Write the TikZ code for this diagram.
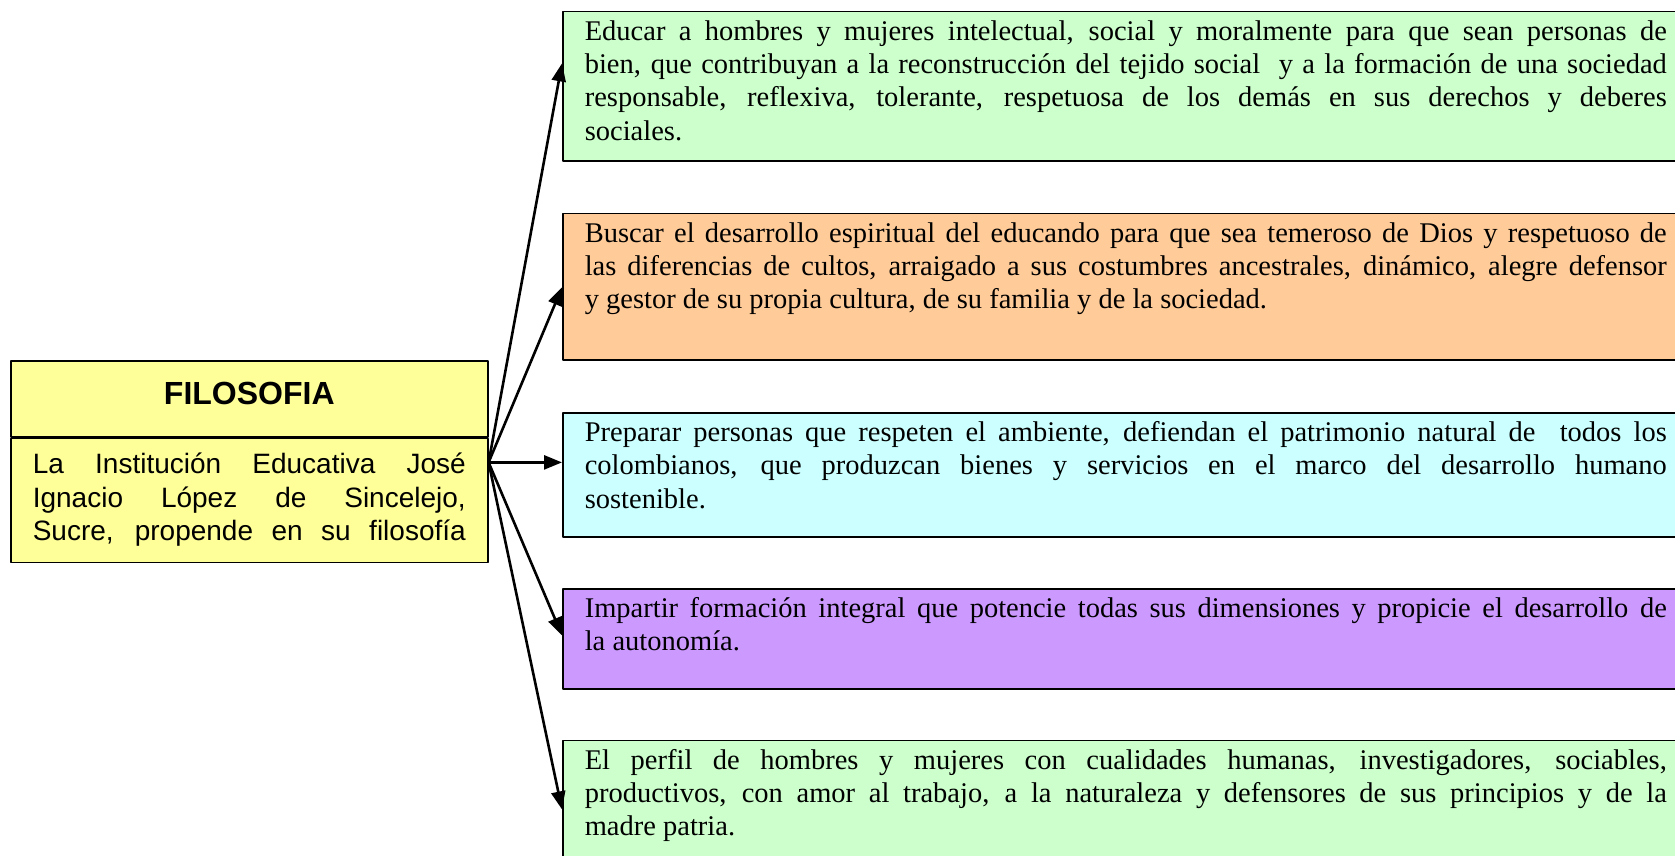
\documentclass[tikz,border=0pt]{standalone}
\usepackage{fontspec}
\setmainfont{Liberation Serif}[Ligatures=CommonOff]
\newfontfamily\arial{Liberation Sans}
\usetikzlibrary{positioning,arrows.meta}
\definecolor{verde}{HTML}{CCFFCC}
\definecolor{naranja}{HTML}{FFCC99}
\definecolor{celeste}{HTML}{CCFFFF}
\definecolor{lila}{HTML}{CC99FF}
\definecolor{amarillo}{HTML}{FFFF99}
\newcommand{\lin}[1]{\makebox[\hsize][s]{\strut #1}}
\newcommand{\caja}[2]{\parbox[t][#1][t]{1082pt}{\strut #2}}
\begin{document}
\begin{tikzpicture}[x=1pt,y=1pt,line join=round,>={Triangle[length=18pt,width=14pt]},
	objetivo/.style={draw,line width=1.6pt,inner xsep=22pt,inner ysep=5.4pt,anchor=north west,font=\fontsize{28.5}{33.3}\selectfont},
	titulo/.style={draw,line width=1.6pt,fill=amarillo,minimum width=477pt,minimum height=76pt,anchor=north west,font=\arial\bfseries\fontsize{32}{36}\selectfont},
	cuerpo/.style={draw,line width=1.6pt,fill=amarillo,minimum width=477pt,minimum height=124pt,inner sep=0pt,font=\arial\fontsize{28}{33.3}\selectfont},
	flecha/.style={->,line width=2.6pt}]
	\useasboundingbox (0,0) rectangle (1675,856);
	\node[titulo] (filo) at (10,496) {\raisebox{10pt}{FILOSOFIA}};
	\node[cuerpo,below=0pt of filo] (filotexto) {\parbox{433pt}{%
		\lin{La Institución Educativa José}\\
		\lin{Ignacio López de Sincelejo,}\\
		\lin{Sucre, propende en su filosofía}}};
	\coordinate (salida) at ([yshift=38pt]filotexto.east);
	\node[objetivo,fill=verde] (obj1) at (562,845.3) {\caja{138.5pt}{%
		\lin{Educar a hombres y mujeres intelectual, social y moralmente para que sean personas de}\\
		\lin{bien, que contribuyan a la reconstrucción del tejido social\ \ y a la formación de una sociedad}\\
		\lin{responsable, reflexiva, tolerante, respetuosa de los demás en sus derechos y deberes}\\
		sociales.}};
	\node[objetivo,fill=naranja,below=51pt of obj1] (obj2) {\caja{136pt}{%
		\lin{Buscar el desarrollo espiritual del educando para que sea temeroso de Dios y respetuoso de}\\
		\lin{las diferencias de cultos, arraigado a sus costumbres ancestrales, dinámico, alegre defensor}\\
		y gestor de su propia cultura, de su familia y de la sociedad.}};
	\node[objetivo,fill=celeste,below=51pt of obj2] (obj3) {\caja{113.7pt}{%
		\lin{Preparar personas que respeten el ambiente, defiendan el patrimonio natural de\ \ todos los}\\
		\lin{colombianos, que produzcan bienes y servicios en el marco del desarrollo humano}\\
		sostenible.}};
	\node[objetivo,fill=lila,below=50pt of obj3] (obj4) {\caja{89.2pt}{%
		\lin{Impartir formación integral que potencie todas sus dimensiones y propicie el desarrollo de}\\
		la autonomía.}};
	\node[objetivo,fill=verde,below=50pt of obj4] (obj5) {\caja{150pt}{%
		\lin{El perfil de hombres y mujeres con cualidades humanas, investigadores, sociables,}\\
		\lin{productivos, con amor al trabajo, a la naturaleza y defensores de sus principios y de la}\\
		madre patria.}};
	\foreach \n/\d in {1/399,2/175,3/0,4/-173,5/-347}
	\draw[flecha] (salida)--([yshift=\d pt]salida -| obj\n.west);
\end{tikzpicture}
\end{document}
